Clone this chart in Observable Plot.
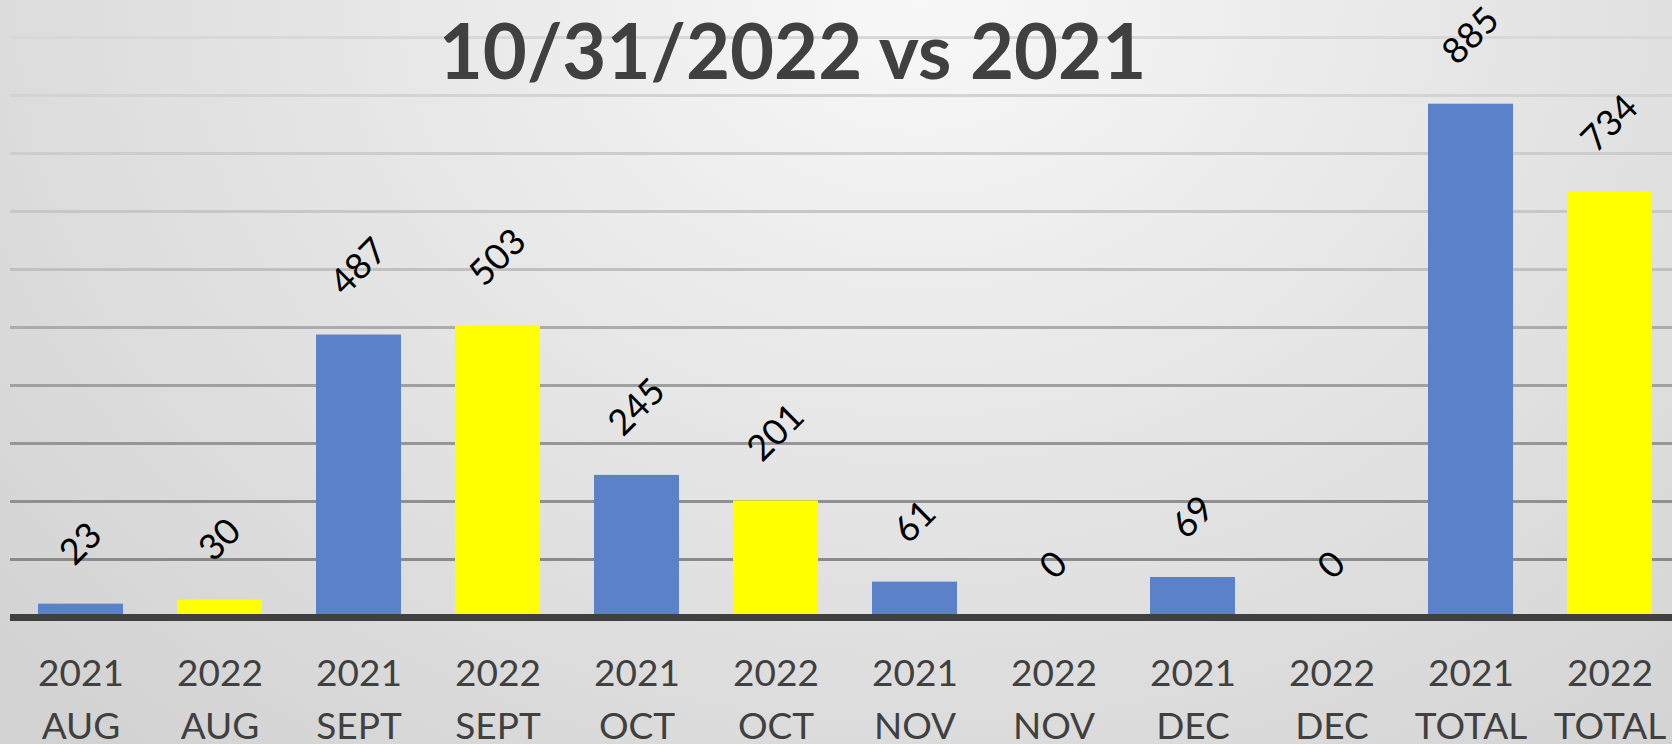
<!DOCTYPE html>
<html>
<head>
<meta charset="utf-8">
<script src="https://cdn.jsdelivr.net/npm/d3@7"></script>
<script src="https://cdn.jsdelivr.net/npm/@observablehq/plot@0.6"></script>
<style>
  html, body { margin: 0; padding: 0; }
  body {
    width: 1672px; height: 744px; overflow: hidden;
    background: radial-gradient(ellipse 75% 135% at 55% 0%, #f8f8f8 0%, #e6e6e6 45%, #d2d2d2 100%);
  }
</style>
</head>
<body>
<div id="chart"></div>
<script>
const title = "10/31/2022 vs 2021";
const categories = ["2021 AUG","2022 AUG","2021 SEPT","2022 SEPT","2021 OCT","2022 OCT","2021 NOV","2022 NOV","2021 DEC","2022 DEC","2021 TOTAL","2022 TOTAL"];
const values = [23, 30, 487, 503, 245, 201, 61, 0, 69, 0, 885, 734];
const gridTicks = [100, 200, 300, 400, 500, 600, 700, 800, 900, 1000];

const BLUE = "#5b82c8";
const YELLOW = "#ffff00";
const gridColor = d3.scaleLinear()
  .domain([100, 300, 400, 500, 600, 800, 1000])
  .range(["#8a8a8a", "#969696", "#a0a0a0", "#acacac", "#c0c0c0", "#cdcdcd", "#d8d8d8"]);

const data = categories.map((c, i) => ({category: c, year: c.split(" ")[0], value: values[i]}));

const labelMarks = [1, 2, 3].map(n =>
  Plot.text(data.filter(d => String(d.value).length === n), {
    x: "category", y: "value", text: d => String(d.value),
    rotate: -45, textAnchor: "middle", lineAnchor: "middle",
    dy: -(44 + 8 * n), fontSize: 36, fill: "#000"
  })
);

const chart = Plot.plot({
  width: 1672,
  height: 744,
  marginTop: 37,
  marginBottom: 127,
  marginLeft: 10,
  marginRight: 0,
  style: {background: "transparent", fontFamily: "Lato, sans-serif", overflow: "visible"},
  x: {domain: categories, range: [11, 1679], paddingInner: 0.388, paddingOuter: 0.194, axis: null},
  y: {domain: [0, 1000], axis: null},
  color: {type: "identity"},
  marks: [
    Plot.ruleY(gridTicks, {y: d => d, stroke: d => gridColor(d), strokeWidth: 3}),
    Plot.text([title], {text: d => d, frameAnchor: "top", lineAnchor: "bottom", dy: 41, dx: -49,
      fontSize: 76, fontWeight: "bold", fill: "#404040"}),
    Plot.barY(data, {x: "category", y: "value", fill: d => d.year === "2021" ? BLUE : YELLOW}),
    Plot.ruleY([0], {stroke: "#404040", strokeWidth: 7}),
    ...labelMarks,
    Plot.text(data, {x: "category", text: d => d.category.replace(" ", "\n"),
      frameAnchor: "bottom", lineAnchor: "bottom", dy: 121, lineHeight: 1.43,
      fontSize: 37, fill: "#404040"})
  ]
});
document.getElementById("chart").appendChild(chart);
</script>
</body>
</html>
